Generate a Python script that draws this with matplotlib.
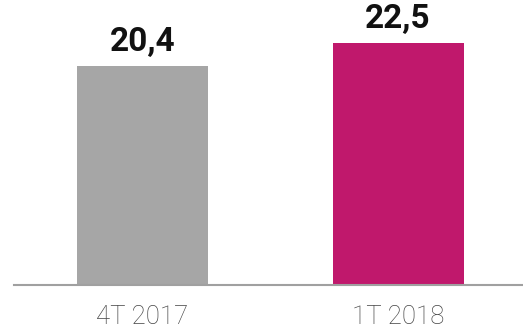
import matplotlib
matplotlib.use("Agg")
import matplotlib.pyplot as plt

# Quarterly values
periods = ["4T 2017", "1T 2018"]
values = [20.4, 22.5]
labels = ["20,4", "22,5"]
colors = ["#a6a6a6", "#c0186c"]

W, H = 523, 328
fig = plt.figure(figsize=(W / 100, H / 100), dpi=100)

# axes spans from the left end of the baseline to the right edge
base_y = 285
px_per_unit = 10.74
ax = fig.add_axes([14 / W, (H - base_y) / H, (W - 14) / W, base_y / H])

x = [0, 1]
ax.bar(x, values, width=0.513, color=colors)

for xi, v, lab in zip(x, values, labels):
    ax.annotate(lab, (xi, v), xytext=(0, 8), textcoords="offset pixels",
                ha="center", va="bottom", fontsize=24, fontweight="bold",
                family="Roboto", color="#111111")

ax.set_xlim(-0.503, 1.489)
ax.set_ylim(0, base_y / px_per_unit)

for side in ["top", "right", "left"]:
    ax.spines[side].set_visible(False)
ax.spines["bottom"].set_color("#a0a0a0")
ax.spines["bottom"].set_linewidth(1.5)

ax.set_yticks([])
ax.set_xticks(x)
ax.set_xticklabels(periods, fontsize=18.5, family="Roboto", fontweight="light",
                   color="#444444")
ax.tick_params(axis="x", length=0, pad=14.5)

fig.savefig("out.png", dpi=100)
